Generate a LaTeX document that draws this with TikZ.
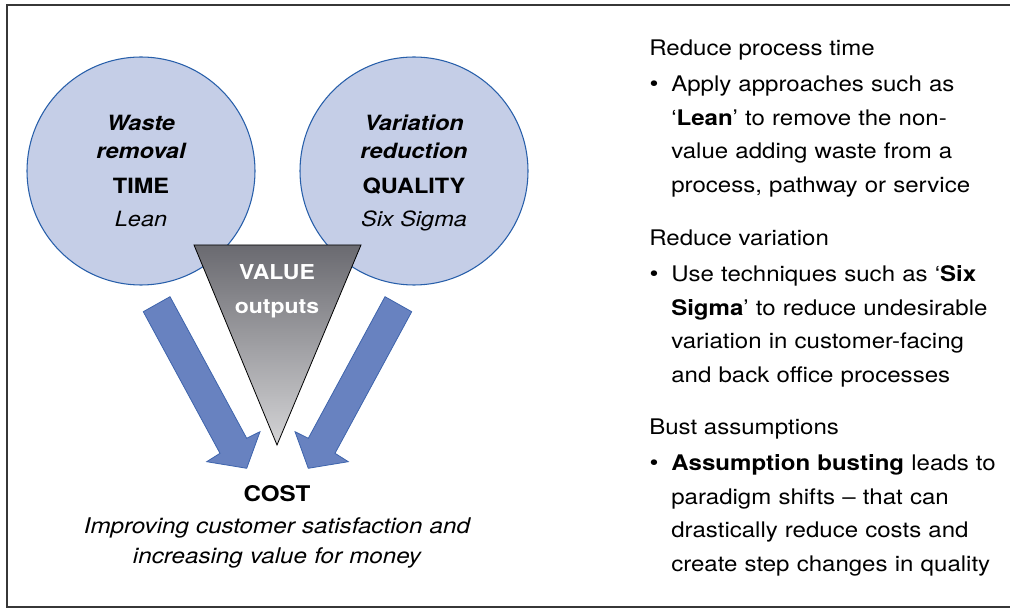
\documentclass[tikz,border=0pt]{standalone}
\usepackage{fontspec}
\setmainfont{TeX Gyre Heros}[FakeStretch=1.12]
\usetikzlibrary{positioning}
\definecolor{circfill}{RGB}{197,206,231}
\definecolor{circline}{RGB}{40,95,170}
\definecolor{arrowfill}{RGB}{104,130,192}
\definecolor{arrowline}{RGB}{62,100,172}
\definecolor{framegray}{RGB}{55,55,55}
\definecolor{valuetop}{RGB}{106,106,112}
\definecolor{valuebot}{RGB}{212,212,214}
\tikzset{
  lens/.style={circle,draw=circline,line width=0.8pt,fill=circfill,
    minimum size=171pt,inner sep=0pt,align=center,text depth=0pt,
    font=\fontsize{15.75pt}{21.2pt}\selectfont},
  blockarrow/.style={draw=arrowline,line width=0.6pt,fill=arrowfill},
  sidehead/.style={anchor=base west,inner sep=0pt,
    font=\fontsize{16.1pt}{25.2pt}\selectfont},
  sidetext/.style={sidehead,text width=260pt,align=left},
  bulletmark/.style={anchor=base,inner sep=0pt,
    font=\fontsize{17pt}{25.2pt}\selectfont},
  valuetxt/.style={anchor=base,inner sep=0pt,text width=100pt,align=center,
    text=white,font=\fontsize{15.4pt}{25pt}\selectfont\bfseries},
  costtxt/.style={anchor=base,inner sep=0pt,text width=330pt,align=center,
    font=\fontsize{16.2pt}{22.6pt}\selectfont},
}
\begin{document}
\begin{tikzpicture}[x=0.75pt,y=-0.75pt]
\useasboundingbox (0,0) rectangle (1010,609);
% frame, open on the right
\draw[framegray,line width=1.5pt] (1012,5) -- (7,5) -- (7,607) -- (1012,607);

% the two circles
\node[lens] (waste) at (141,171)
  {{\bfseries\itshape Waste}\\{\bfseries\itshape removal}\\[4.8pt]{\bfseries TIME}\\[3.8pt]{\itshape Lean}};
\node[lens] (variation) at (414,171)
  {{\bfseries\itshape Variation}\\{\bfseries\itshape reduction}\\[4.8pt]{\bfseries QUALITY}\\[3.8pt]{\itshape Six Sigma}};

% value triangle
\coordinate (vleft) at (194,245);
\coordinate (vright) at (361,245);
\coordinate (vtip) at (277,445);
\shade[top color=valuetop,bottom color=valuebot,draw=black,line width=0.6pt]
  (vleft) -- (vright) -- (vtip) -- cycle;
\node[valuetxt] (value) at (277,280) {VALUE\\outputs};

% block arrows, mirrored about the triangle axis
\foreach \s in {1,-1}{
  \begin{scope}[shift={(277.5,0)},xscale=\s]
    \draw[blockarrow] (-134.2,311.7) -- (-107.5,296.7) -- (-30.8,438.3)
      -- (-17.5,431.7) -- (-30.8,468.3) -- (-70.8,461.7) -- (-57.5,453.3) -- cycle;
  \end{scope}
}

% cost
\node[costtxt] (cost) at (277,501.7) {\bfseries COST};
\node[costtxt] (costnote) at (277,533.5)
  {\itshape Improving customer satisfaction and\\increasing value for money};

% right column
\node[sidehead] (time) at (649,56) {Reduce process time};
\node[sidetext] (timetxt) at (671,91.7)
  {Apply approaches such as\\‘\textbf{Lean}’ to remove the non-\\value adding waste from a\\process, pathway or service};
\node[bulletmark] (timedot) at (654,91.7) {\textbullet};

\node[sidehead] (var) at (649,246) {Reduce variation};
\node[sidetext] (vartxt) at (671,281.7)
  {Use techniques such as ‘\textbf{Six}\\\textbf{Sigma}’ to reduce undesirable\\variation in customer-facing\\and back office processes};
\node[bulletmark] (vardot) at (654,281.7) {\textbullet};

\node[sidehead] (bust) at (649,434) {Bust assumptions};
\node[sidetext] (busttxt) at (671,470.7)
  {\textbf{Assumption busting} leads to\\paradigm shifts – that can\\drastically reduce costs and\\create step changes in quality};
\node[bulletmark] (bustdot) at (654,470.7) {\textbullet};
\end{tikzpicture}
\end{document}
